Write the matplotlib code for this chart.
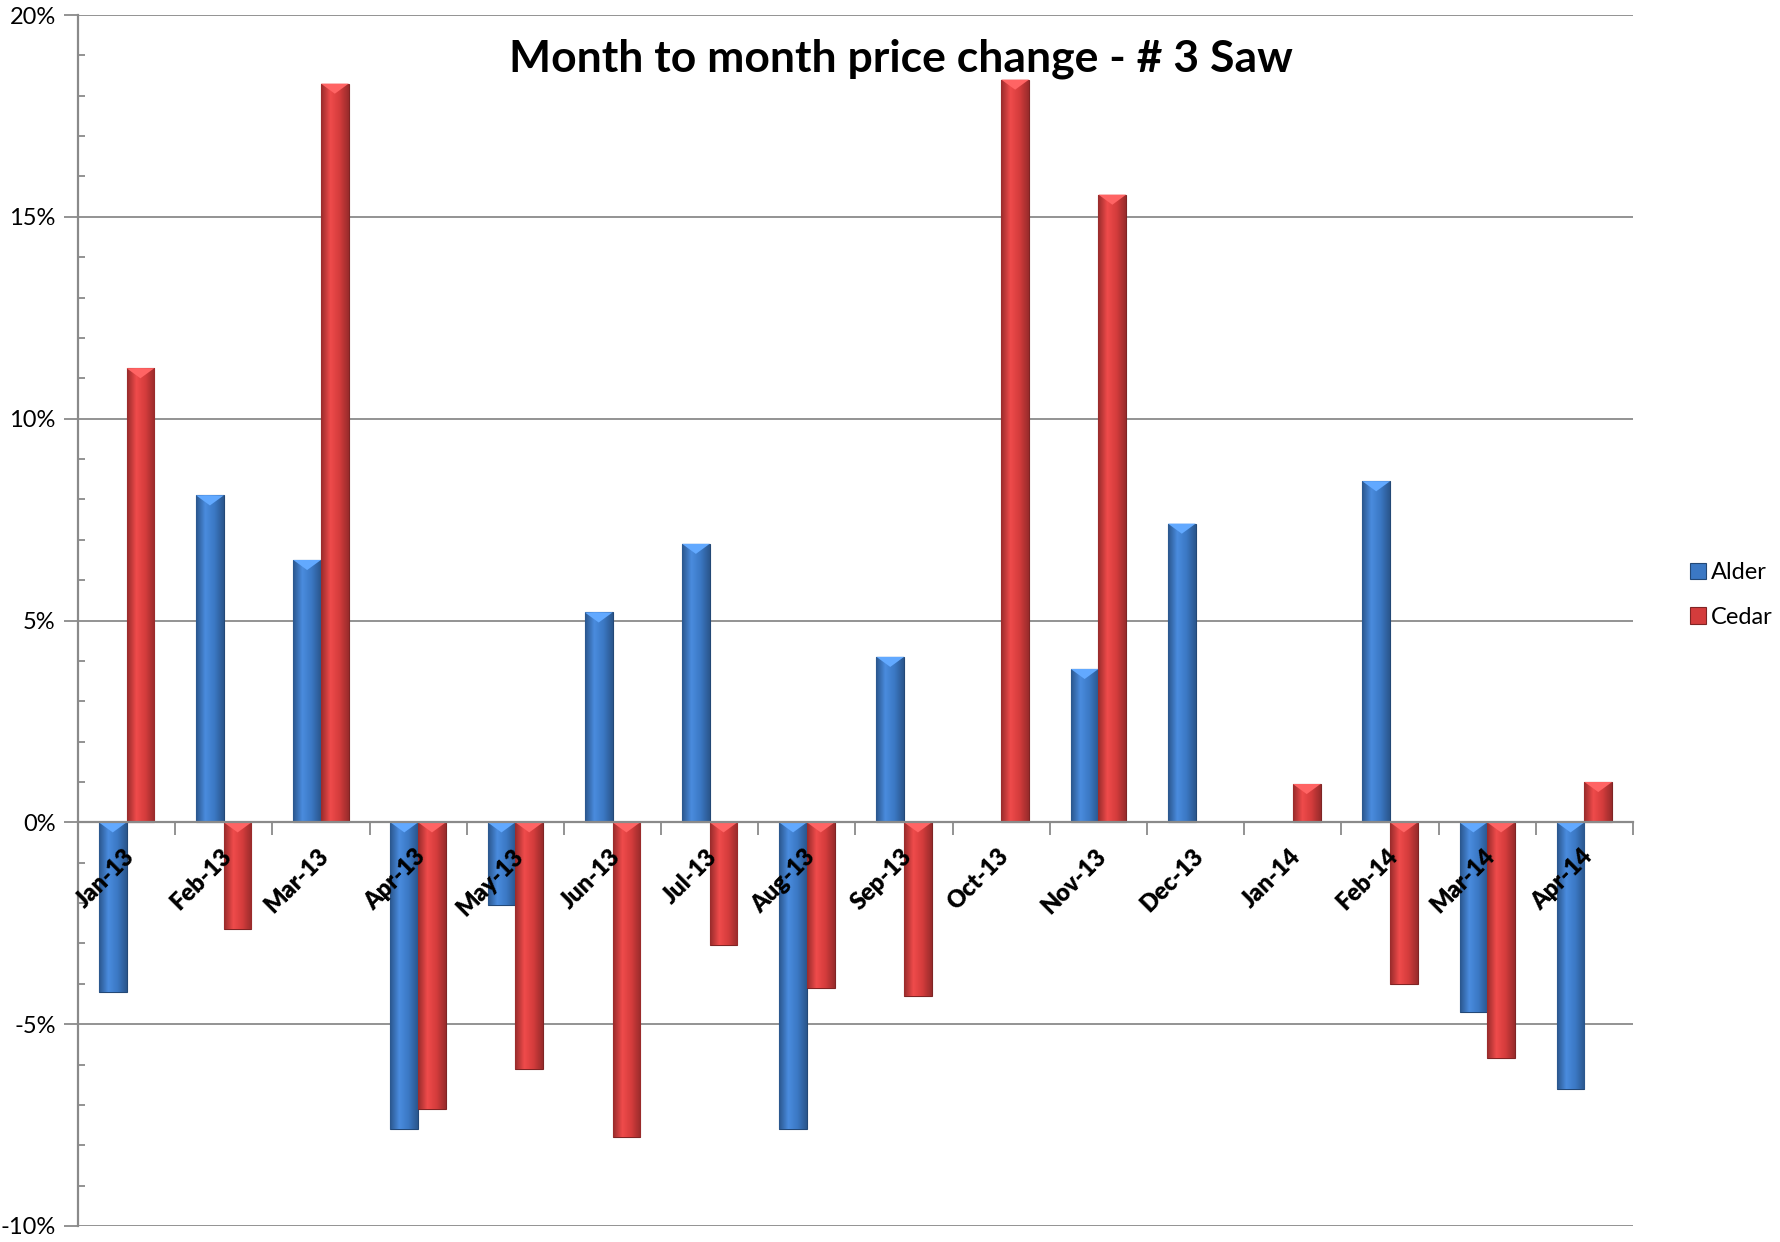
import numpy as np
import matplotlib.pyplot as plt
from matplotlib.colors import LinearSegmentedColormap, to_rgb

plt.rcParams["font.family"] = ["Lato", "DejaVu Sans"]

# --- data (percent month-to-month change) ---
months = ["Jan-13", "Feb-13", "Mar-13", "Apr-13", "May-13", "Jun-13", "Jul-13", "Aug-13",
          "Sep-13", "Oct-13", "Nov-13", "Dec-13", "Jan-14", "Feb-14", "Mar-14", "Apr-14"]
alder = [-4.2, 8.1, 6.5, -7.6, -2.05, 5.2, 6.9, -7.6, 4.1, 0.0, 3.8, 7.4, 0.0, 8.45, -4.7, -6.6]
cedar = [11.25, -2.65, 18.3, -7.1, -6.1, -7.8, -3.05, -4.1, -4.3, 18.4, 15.55, 0.0, 0.95, -4.0, -5.85, 1.0]

blue = "#3b78c4"
red = "#d43c3c"

W, H = 1781, 1242
fig = plt.figure(figsize=(W / 100, H / 100), dpi=100)
ax = fig.add_axes([78 / W, 1 - 1226 / H, (1633 - 78) / W, (1226 - 15) / H])

x = np.arange(len(months))
bw = 0.285
bevel = 0.25  # depth of the light notch on bar tops, in %


def shaded(color):
    c = np.array(to_rgb(color))
    dark = c * 0.72
    light = np.clip(c * 1.08 + 0.04, 0, 1)
    return LinearSegmentedColormap.from_list("s", [dark, light, c, dark])


def draw(xs, vals, color, label):
    c = np.array(to_rgb(color))
    bars = ax.bar(xs, vals, bw, color=color, edgecolor=c * 0.6,
                  linewidth=0.8, label=label, zorder=3)
    cmap = shaded(color)
    grad = np.linspace(0, 1, 64).reshape(1, -1)
    for b in bars:
        if b.get_height() == 0:
            b.set_visible(False)
            continue
        x0 = b.get_x()
        y0, y1 = sorted([b.get_y(), b.get_y() + b.get_height()])
        im = ax.imshow(grad, cmap=cmap, aspect="auto", extent=[x0, x0 + bw, y0, y1], zorder=3.5)
        im.set_clip_path(b)
        d = min(bevel, (y1 - y0) / 2)
        ax.fill([x0, x0 + bw, x0 + bw / 2], [y1, y1, y1 - d],
                color=np.clip(c * 1.15 + 0.12, 0, 1), lw=0, zorder=3.6)
    return bars


draw(x - bw / 2, alder, blue, "Alder")
draw(x + bw / 2, cedar, red, "Cedar")

ax.set_xlim(-0.5, len(months) - 0.5)
ax.set_ylim(-10, 20)

gray = "#8a8a8a"
ax.set_yticks(np.arange(-10, 21, 5))
ax.set_yticklabels([f"{v}%" for v in range(-10, 21, 5)])
ax.set_yticks(np.arange(-10, 21, 1), minor=True)
ax.yaxis.grid(True, which="major", color=gray, linewidth=1.3, zorder=0)
ax.tick_params(axis="y", which="major", direction="out", length=10, width=1.3, color=gray,
               labelsize=17, pad=6)
ax.tick_params(axis="y", which="minor", direction="in", length=5, width=1.3, color=gray)

# category boundaries as ticks, labels at centres next to the zero line
ax.set_xticks(np.arange(-0.5, len(months), 1))
ax.set_xticklabels([])
ax.tick_params(axis="x", which="major", direction="out", length=9, width=1.3, color=gray)
for xi, m in zip(x, months):
    ax.annotate(m, (xi, 0), xytext=(3, -22), textcoords="offset points", rotation=45,
                ha="right", va="center", rotation_mode="anchor", fontweight="heavy",
                fontsize=17, zorder=6, annotation_clip=False)

for s in ["top", "right"]:
    ax.spines[s].set_visible(False)
ax.spines["bottom"].set_position(("data", 0))
ax.spines["bottom"].set_color(gray)
ax.spines["bottom"].set_linewidth(1.6)
ax.spines["bottom"].set_zorder(4)
ax.spines["left"].set_color(gray)
ax.spines["left"].set_linewidth(1.6)

fig.text(901 / W, 1 - 59 / H, "Month to month price change - # 3 Saw", ha="center", va="center",
         fontsize=32, fontweight="bold")

ax.legend(loc="center left", bbox_to_anchor=(1.0, 0.521), frameon=False, fontsize=17,
          handlelength=0.7, handleheight=0.7, handletextpad=0.2, labelspacing=1.0, borderaxespad=2.0)

fig.savefig("out.png", dpi=100)
